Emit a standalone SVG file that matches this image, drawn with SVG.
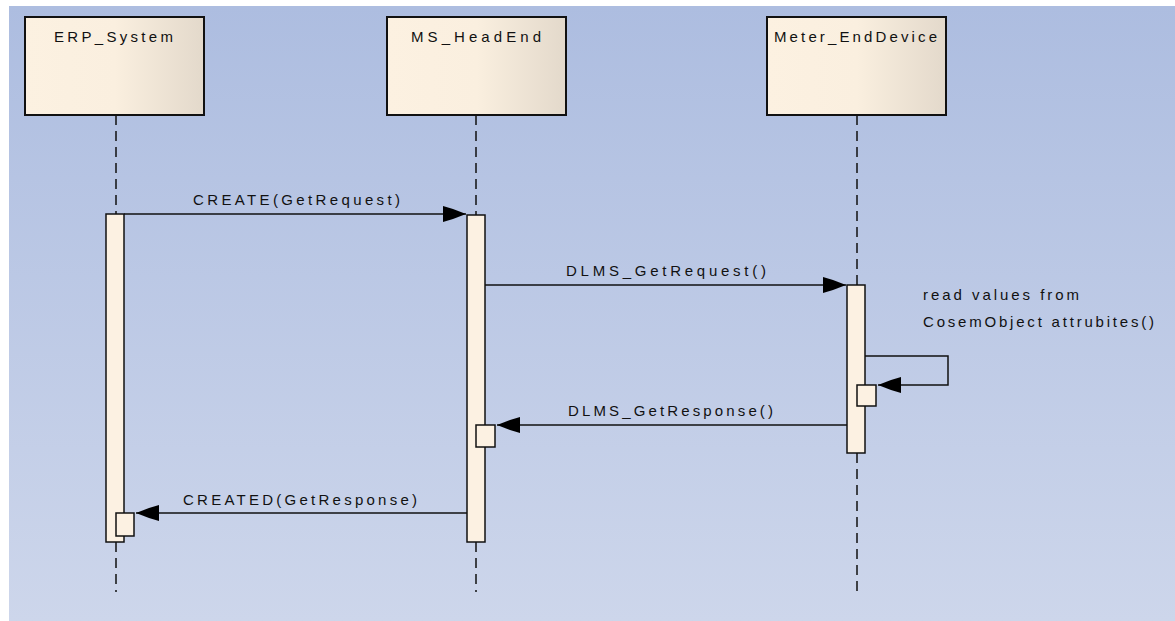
<svg xmlns="http://www.w3.org/2000/svg" width="1175" height="621" viewBox="0 0 1175 621">
<style>
.lbl{font-family:"Liberation Sans",Arial,sans-serif;font-size:15px;fill:#111}
.box{fill:url(#boxg);stroke:#111;stroke-width:2}
.bar{fill:#fcf1e2;stroke:#111;stroke-width:1.5}
.life{stroke:#111;stroke-width:1.5;stroke-dasharray:10 6;fill:none}
.msg{stroke:#111;stroke-width:1.5;fill:none;marker-end:url(#ah)}
</style>
<defs>
<linearGradient id="bg" x1="0" y1="0" x2="0" y2="1">
<stop offset="0" stop-color="#adbde0"/>
<stop offset="1" stop-color="#cdd6eb"/>
</linearGradient>
<linearGradient id="boxg" x1="0" y1="0" x2="1" y2="0">
<stop offset="0" stop-color="#fcf1e1"/>
<stop offset="0.5" stop-color="#faefdf"/>
<stop offset="1" stop-color="#e3d9cb"/>
</linearGradient>
<marker id="ah" markerUnits="userSpaceOnUse" viewBox="-24 -9 25 18" markerWidth="25" markerHeight="18" refX="0" refY="0" orient="auto">
<polygon points="0,0 -13,-5 -23,-8 -23,8 -13,5" fill="#000"/>
</marker>
</defs>
<rect x="0" y="0" width="1175" height="621" fill="#ffffff"/>
<rect x="9" y="6" width="1166" height="615" fill="url(#bg)"/>

<g id="lifelines">
<path class="life" d="M116,115 V214 M116,542 V592"/>
<path class="life" d="M476,115 V215 M476,542 V592"/>
<path class="life" d="M857,115 V285 M857,453 V592"/>
</g>

<g id="ERP_System">
<rect class="box" x="25" y="17" width="179" height="98"/>
<text class="lbl" x="54" y="42" textLength="119" lengthAdjust="spacing">ERP_System</text>
<rect class="bar" x="106" y="214" width="18" height="328"/>
<rect class="bar" x="116" y="513" width="18" height="23"/>
</g>

<g id="MS_HeadEnd">
<rect class="box" x="387" y="17" width="179" height="98"/>
<text class="lbl" x="411" y="42" textLength="130" lengthAdjust="spacing">MS_HeadEnd</text>
<rect class="bar" x="467" y="215" width="18" height="327"/>
<rect class="bar" x="476" y="425" width="19" height="22"/>
</g>

<g id="Meter_EndDevice">
<rect class="box" x="767" y="17" width="179" height="98"/>
<text class="lbl" x="774" y="42" textLength="163" lengthAdjust="spacing">Meter_EndDevice</text>
<rect class="bar" x="847" y="285" width="18" height="168"/>
<rect class="bar" x="857" y="385" width="19" height="21"/>
</g>

<g id="connectors">
<line class="msg" x1="124" y1="214" x2="466" y2="214"/>
<text class="lbl" x="193" y="205" textLength="207" lengthAdjust="spacing">CREATE(GetRequest)</text>
<line class="msg" x1="485" y1="285" x2="846" y2="285"/>
<text class="lbl" x="566" y="276" textLength="200" lengthAdjust="spacing">DLMS_GetRequest()</text>
<path class="msg" d="M865,356 H948 V385 H878"/>
<text class="lbl" x="923" y="300" textLength="156" lengthAdjust="spacing">read values from</text>
<text class="lbl" x="923" y="327" textLength="231" lengthAdjust="spacing">CosemObject attrubites()</text>
<line class="msg" x1="847" y1="425" x2="497" y2="425"/>
<text class="lbl" x="568" y="416" textLength="205" lengthAdjust="spacing">DLMS_GetResponse()</text>
<line class="msg" x1="467" y1="513" x2="136" y2="513"/>
<text class="lbl" x="183" y="505" textLength="234" lengthAdjust="spacing">CREATED(GetResponse)</text>
</g>
</svg>
